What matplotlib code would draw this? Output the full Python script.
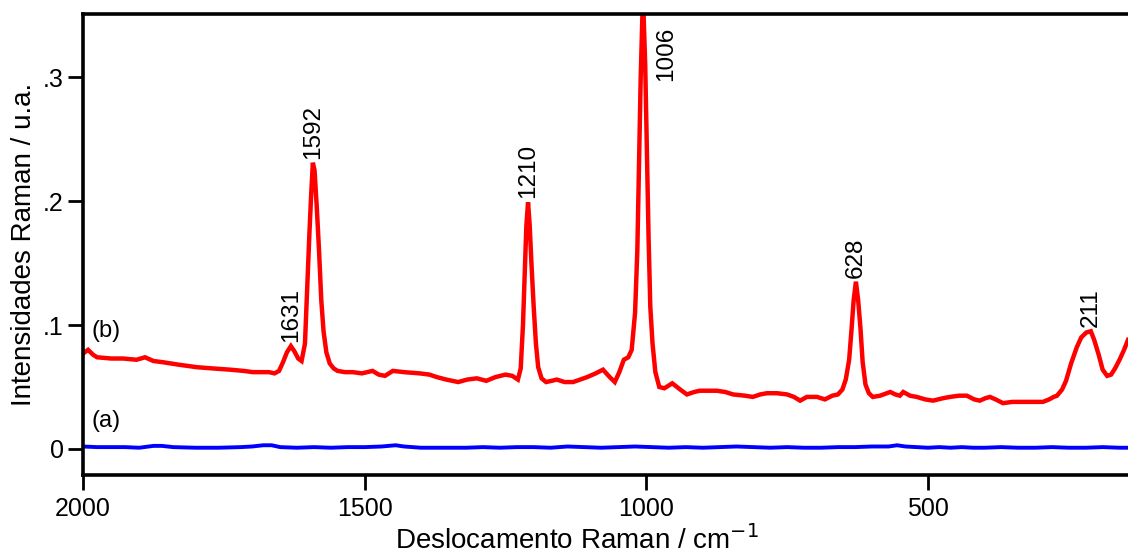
import numpy as np
import matplotlib
matplotlib.use("Agg")
import matplotlib.pyplot as plt

plt.rcParams['font.family'] = ['Liberation Sans', 'DejaVu Sans']

# espectro (b): deslocamento Raman (cm-1) e intensidade (u.a.)
red_x = [2000, 1991, 1982, 1975, 1950, 1929, 1905, 1890, 1875, 1858, 1830, 1798,
         1770, 1739, 1715, 1698, 1680, 1670, 1660, 1652, 1645, 1638, 1631, 1625,
         1618, 1612, 1606, 1602, 1598, 1595, 1592, 1589, 1585, 1581, 1577, 1573,
         1568, 1562, 1555, 1548, 1535, 1521, 1505, 1486, 1475, 1464, 1450, 1430,
         1402, 1385, 1372, 1355, 1334, 1318, 1301, 1284, 1268, 1250, 1238, 1228,
         1223, 1219, 1216, 1213, 1210, 1207, 1204, 1200, 1196, 1192, 1186, 1178,
         1168, 1159, 1145, 1130, 1105, 1090, 1077, 1065, 1056, 1048, 1040, 1032,
         1026, 1020, 1016, 1013, 1010, 1007, 1006, 1005, 1002, 999, 996, 993,
         989, 984, 977, 968, 954, 940, 928, 915, 905, 890, 875, 860, 846, 825,
         811, 798, 786, 768, 750, 738, 727, 715, 697, 683, 670, 660, 652, 646,
         640, 636, 632, 628, 624, 620, 616, 611, 605, 598, 585, 567, 558, 550,
         544, 532, 520, 505, 491, 473, 461, 445, 431, 418, 408, 398, 390, 380,
         367, 350, 331, 315, 296, 285, 277, 271, 262, 255, 246, 236, 228, 219,
         211, 205, 197, 190, 182, 175, 168, 160, 152, 145]
red_y = [0.077, 0.080, 0.076, 0.074, 0.073, 0.073, 0.072, 0.074, 0.071, 0.070, 0.068, 0.066,
         0.065, 0.064, 0.063, 0.062, 0.062, 0.062, 0.061, 0.063, 0.070, 0.078, 0.083, 0.079,
         0.073, 0.071, 0.085, 0.130, 0.175, 0.205, 0.231, 0.225, 0.195, 0.160, 0.120, 0.095,
         0.078, 0.069, 0.065, 0.063, 0.062, 0.062, 0.061, 0.063, 0.060, 0.059, 0.063, 0.062,
         0.061, 0.060, 0.058, 0.056, 0.054, 0.056, 0.057, 0.055, 0.058, 0.060, 0.059, 0.056,
         0.065, 0.100, 0.140, 0.180, 0.199, 0.180, 0.150, 0.115, 0.085, 0.066, 0.057, 0.054,
         0.055, 0.056, 0.054, 0.054, 0.058, 0.061, 0.064, 0.058, 0.054, 0.062, 0.072, 0.074,
         0.080, 0.110, 0.160, 0.230, 0.300, 0.350, 0.356, 0.352, 0.310, 0.240, 0.170, 0.115,
         0.085, 0.062, 0.050, 0.049, 0.053, 0.048, 0.044, 0.046, 0.047, 0.047, 0.047, 0.046, 0.044, 0.043,
         0.042, 0.044, 0.045, 0.045, 0.044, 0.042, 0.039, 0.042, 0.042, 0.040, 0.043, 0.044, 0.048, 0.056,
         0.072, 0.095, 0.120, 0.135, 0.120, 0.098, 0.070, 0.052, 0.045, 0.042, 0.043, 0.046, 0.044, 0.043,
         0.046, 0.043, 0.042, 0.040, 0.039, 0.041, 0.042, 0.043, 0.043, 0.040, 0.039, 0.041, 0.042, 0.040,
         0.037, 0.038, 0.038, 0.038, 0.038, 0.040, 0.042, 0.043, 0.048, 0.055, 0.069, 0.082, 0.090, 0.094,
         0.095, 0.088, 0.076, 0.064, 0.059, 0.060, 0.065, 0.072, 0.080, 0.088]

# espectro (a)
blue_x = [2000, 1975, 1950, 1925, 1900, 1875, 1860, 1840, 1800, 1760, 1720, 1700,
          1680, 1665, 1650, 1620, 1590, 1560, 1530, 1500, 1470, 1445, 1430, 1400,
          1360, 1320, 1290, 1260, 1230, 1200, 1170, 1140, 1110, 1080, 1050, 1020,
          990, 960, 930, 900, 870, 840, 810, 780, 750, 720, 690, 660, 630, 600,
          570, 555, 540, 520, 500, 480, 460, 440, 420, 400, 370, 340, 310, 280,
          250, 220, 190, 160, 145]
blue_y = [0.002, 0.0015, 0.0015, 0.0015, 0.001, 0.0025, 0.0025, 0.0015, 0.001, 0.001, 0.0015, 0.002,
          0.003, 0.003, 0.0015, 0.001, 0.0015, 0.001, 0.0015, 0.0015, 0.002, 0.003, 0.002, 0.001,
          0.001, 0.001, 0.0015, 0.001, 0.0015, 0.0015, 0.001, 0.002, 0.0015, 0.001, 0.0015, 0.002,
          0.0015, 0.001, 0.0015, 0.001, 0.0015, 0.002, 0.0015, 0.001, 0.0015, 0.001, 0.001, 0.0015, 0.0015, 0.002,
          0.002, 0.003, 0.002, 0.0015, 0.001, 0.0015, 0.001, 0.0015, 0.001, 0.001, 0.0015, 0.001, 0.001, 0.0015,
          0.001, 0.001, 0.0015, 0.001, 0.001]

# bandas marcadas
peaks = [1631, 1592, 1210, 1006, 628, 211]

fig = plt.figure(figsize=(11.28, 5.53), dpi=100)
ax = fig.add_axes([83/1128, 78/553, 1045/1128, 461/553])

ax.plot(red_x, red_y, color='#ff0000', lw=3.2, solid_joinstyle='miter')
ax.plot(blue_x, blue_y, color='#0000ff', lw=2.8)

ax.set_xlim(2000, 145)
ax.set_ylim(-0.021, 0.351)

ax.set_xticks([2000, 1500, 1000, 500])
ax.set_yticks([0, 0.1, 0.2, 0.3])
ax.set_yticklabels(['0', '.1', '.2', '.3'])

for p in peaks:
    h = np.interp(p, red_x[::-1], red_y[::-1])
    if p == 1006:
        ax.annotate(str(p), (p, 0.351), xytext=(17, -9), textcoords='offset points',
                    rotation=90, ha='center', va='top', fontsize=17.5)
    else:
        ax.annotate(str(p), (p, h), xytext=(0, 3), textcoords='offset points',
                    rotation=90, ha='center', va='bottom', fontsize=17.5)

ax.text(1985, 0.0865, '(b)', fontsize=17, ha='left', va='bottom')
ax.text(1985, 0.0135, '(a)', fontsize=17, ha='left', va='bottom')

fig.text(577/1128, 4/553, 'Deslocamento Raman / cm$^{-1}$', fontsize=20,
         ha='center', va='baseline')
ax.set_ylabel('Intensidades Raman / u.a.', fontsize=20)
ax.yaxis.set_label_coords(-46/1045, 0.5)

ax.spines['right'].set_visible(False)
for s in ['left', 'bottom', 'top']:
    ax.spines[s].set_linewidth(2.6)
ax.tick_params(axis='both', direction='out', width=2, length=11, labelsize=18)
ax.tick_params(axis='x', pad=5)
ax.tick_params(axis='y', pad=3)

fig.savefig('out.png', dpi=100)
